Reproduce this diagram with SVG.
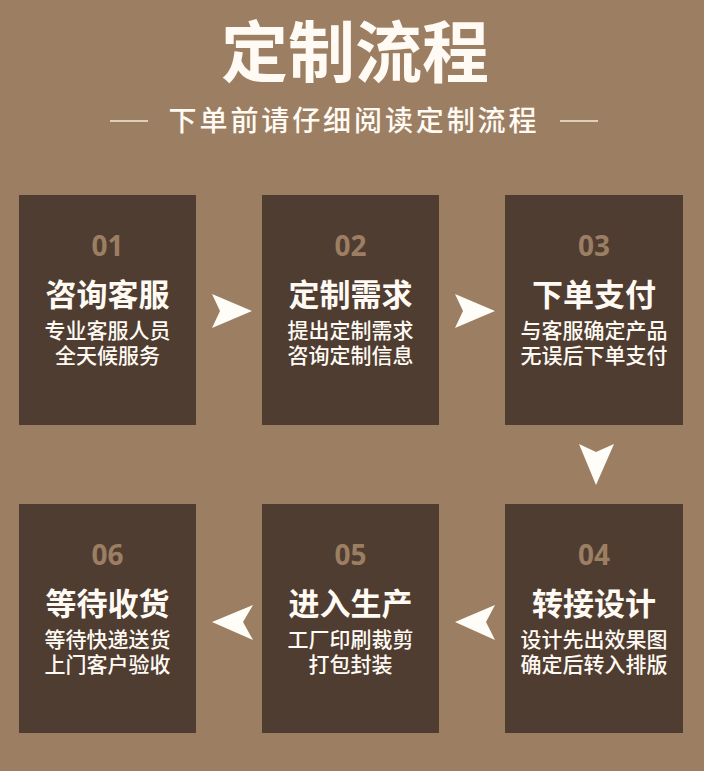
<svg xmlns="http://www.w3.org/2000/svg" width="704" height="771" viewBox="0 0 704 771">
<defs>
<style>
.bg{fill:#9c7f63}
.box{fill:#4f3d31}
.num{font-family:"Noto Sans","Liberation Sans",sans-serif;font-weight:700;font-size:28px;fill:#9c7f63;text-anchor:middle}
.ttl{font-family:"Noto Sans CJK SC",sans-serif;font-weight:700;font-size:31px;fill:#fffaf3;text-anchor:middle}
.sub{font-family:"Noto Sans CJK SC",sans-serif;font-weight:500;font-size:21px;fill:#fffaf3;text-anchor:middle}
.arr{fill:#fffdf8}
</style>
</defs>
<rect class="bg" x="0" y="0" width="704" height="771"/>
<g id="header">
<text x="355" y="77" font-family="'Noto Sans CJK SC',sans-serif" font-weight="700" font-size="67" fill="#fffaf3" text-anchor="middle">定制流程</text>
<text x="354" y="131" font-family="'Noto Sans CJK SC',sans-serif" font-weight="500" font-size="28" letter-spacing="2.9" fill="#fffaf3" text-anchor="middle">下单前请仔细阅读定制流程</text>
<line x1="110" y1="121" x2="148" y2="121" stroke="#f3e8dc" stroke-width="1.5"/>
<line x1="560" y1="121" x2="598" y2="121" stroke="#f3e8dc" stroke-width="1.5"/>
</g>
<g id="step1">
<rect class="box" x="19" y="195" width="177" height="230"/>
<text class="num" x="107.5" y="256">01</text>
<text class="ttl" x="107.5" y="306">咨询客服</text>
<text class="sub" x="107.5" y="338">专业客服人员</text>
<text class="sub" x="107.5" y="363">全天候服务</text>
</g>
<g id="step2">
<rect class="box" x="262" y="195" width="177" height="230"/>
<text class="num" x="350.5" y="256">02</text>
<text class="ttl" x="350.5" y="306">定制需求</text>
<text class="sub" x="350.5" y="338">提出定制需求</text>
<text class="sub" x="350.5" y="363">咨询定制信息</text>
</g>
<g id="step3">
<rect class="box" x="505" y="195" width="178" height="230"/>
<text class="num" x="594" y="256">03</text>
<text class="ttl" x="594" y="306">下单支付</text>
<text class="sub" x="594" y="338">与客服确定产品</text>
<text class="sub" x="594" y="363">无误后下单支付</text>
</g>
<g id="step4">
<rect class="box" x="505" y="504" width="178" height="229"/>
<text class="num" x="594" y="565">04</text>
<text class="ttl" x="594" y="615">转接设计</text>
<text class="sub" x="594" y="647">设计先出效果图</text>
<text class="sub" x="594" y="672">确定后转入排版</text>
</g>
<g id="step5">
<rect class="box" x="262" y="504" width="177" height="229"/>
<text class="num" x="350.5" y="565">05</text>
<text class="ttl" x="350.5" y="615">进入生产</text>
<text class="sub" x="350.5" y="647">工厂印刷裁剪</text>
<text class="sub" x="350.5" y="672">打包封装</text>
</g>
<g id="step6">
<rect class="box" x="19" y="504" width="177" height="229"/>
<text class="num" x="107.5" y="565">06</text>
<text class="ttl" x="107.5" y="615">等待收货</text>
<text class="sub" x="107.5" y="647">等待快递送货</text>
<text class="sub" x="107.5" y="672">上门客户验收</text>
</g>
<g id="connectors">
<path class="arr" d="M212,294 L252,311 L212,328 L220,311 Z"/>
<path class="arr" d="M455,294 L495,311 L455,328 L463,311 Z"/>
<path class="arr" d="M579,444 L596,452 L614,444 L596,485 Z"/>
<path class="arr" d="M495,605 L455,622 L495,640 L486,622 Z"/>
<path class="arr" d="M253,605 L212,622 L253,640 L243,622 Z"/>
</g>
</svg>
